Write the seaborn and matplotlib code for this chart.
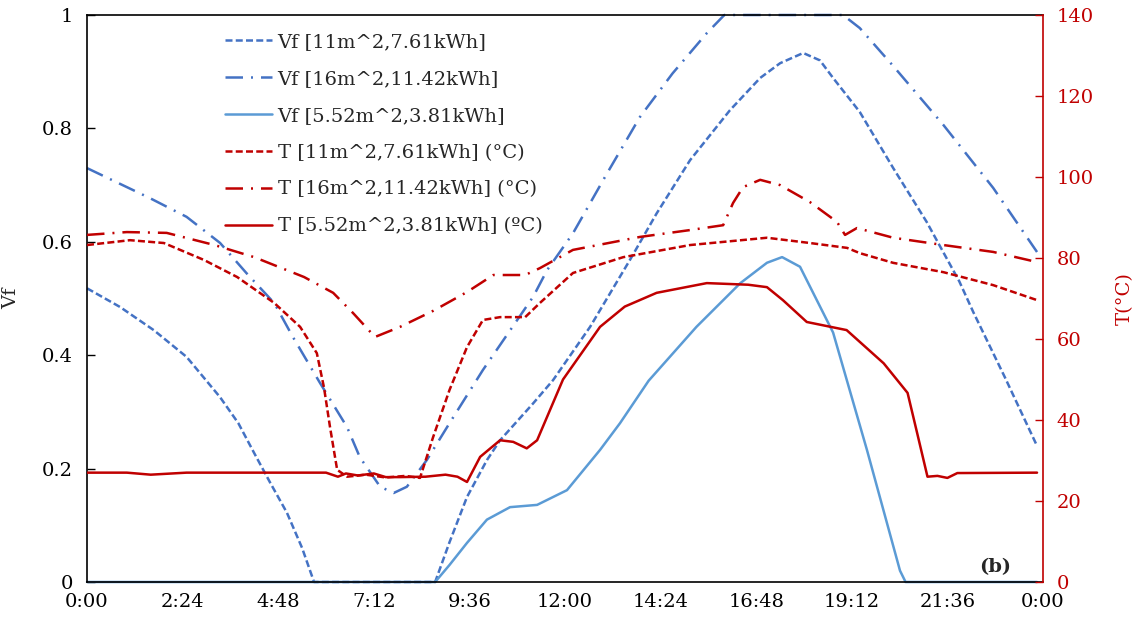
import matplotlib
matplotlib.use("Agg")
import matplotlib.pyplot as plt
import seaborn as sns

# ---------------- data (time in hours) ----------------
vf11_h = [0, 0.83, 1.68, 2.5, 3.34, 3.8, 4.2, 4.6, 5.02, 5.4, 5.7, 8.74, 9.1, 9.54, 10.04, 10.37,
          11.2, 11.7, 12.63, 13.63, 14.3, 15.14, 16.14, 16.9, 17.4, 17.98, 18.4, 18.73, 19.4,
          20.24, 21.08, 21.9, 22.25, 23.05, 23.85]
vf11_v = [0.518, 0.485, 0.444, 0.397, 0.326, 0.28, 0.227, 0.175, 0.122, 0.06, 0.0, 0.0, 0.07,
          0.15, 0.215, 0.25, 0.315, 0.356, 0.45, 0.568, 0.65, 0.744, 0.832, 0.889, 0.915, 0.933,
          0.92, 0.889, 0.829, 0.73, 0.635, 0.53, 0.476, 0.36, 0.24]

vf16_h = [0, 1.58, 2.5, 3.34, 4.0, 4.7, 5.17, 5.85, 6.53, 6.85, 7.36, 7.7, 8.03, 8.53, 9.1, 9.94,
          11.2, 11.55, 12.2, 13.05, 13.88, 14.7, 15.56, 16.0, 18.98, 19.4, 20.24, 21.5, 22.75, 23.85]
vf16_v = [0.73, 0.677, 0.644, 0.598, 0.545, 0.492, 0.432, 0.351, 0.273, 0.22, 0.168, 0.157, 0.168,
          0.215, 0.28, 0.374, 0.503, 0.55, 0.615, 0.72, 0.82, 0.897, 0.968, 1.0, 1.0, 0.977, 0.91,
          0.806, 0.695, 0.582]

vf5_h = [0, 8.74, 9.1, 9.54, 10.04, 10.62, 11.3, 12.05, 12.88, 13.38, 14.1, 15.3, 16.4, 17.07,
         17.45, 17.9, 18.73, 19.58, 20.41, 20.55, 23.85]
vf5_v = [0, 0, 0.03, 0.069, 0.11, 0.132, 0.136, 0.162, 0.233, 0.28, 0.355, 0.45, 0.527, 0.563,
         0.573, 0.556, 0.44, 0.233, 0.02, 0.0, 0.0]

t11_h = [0, 1.08, 1.93, 2.94, 3.77, 4.7, 5.35, 5.77, 5.95, 6.1, 6.28, 6.53, 7.0, 7.5, 8.0, 8.36,
         8.69, 9.1, 9.54, 9.94, 10.37, 11.0, 11.37, 12.2, 13.46, 15.14, 17.07, 18.15, 19.08, 19.4,
         20.24, 21.5, 22.75, 23.85]
t11_v = [83.2, 84.4, 83.7, 79.5, 75.3, 68.9, 63, 56.5, 48, 38.3, 27.7, 26, 26.5, 25.8, 26.2, 25.7,
         35.8, 47.4, 58, 64.7, 65.4, 65.4, 68.9, 76.3, 80.2, 83.2, 85, 83.7, 82.5, 81.2, 78.8, 76.5,
         73.3, 69.6]

t16_h = [0, 1.0, 2.0, 3.2, 4.2, 5.45, 6.18, 6.68, 7.23, 7.86, 8.7, 9.54, 10.2, 11.0, 11.37, 12.2,
         13.88, 15.14, 15.97, 16.22, 16.47, 16.9, 17.4, 18.15, 18.83, 19.03, 19.33, 20.24, 21.5,
         22.75, 23.85]
t16_v = [85.7, 86.4, 86.2, 83.2, 80.2, 75.3, 71.4, 66.4, 60.5, 63, 67, 71.6, 75.8, 75.8, 77.5, 82,
         85.2, 86.9, 88.1, 93.6, 97.5, 99.3, 98, 93.8, 88.9, 85.7, 87.4, 85, 83.2, 81.5, 79]

t5_h = [0, 1.0, 1.6, 2.5, 5.0, 6.0, 6.3, 6.5, 6.8, 7.2, 7.5, 7.86, 8.5, 9.0, 9.3, 9.54, 9.87,
        10.37, 10.7, 11.04, 11.3, 11.95, 12.88, 13.5, 14.3, 15.56, 16.6, 17.07, 17.47, 18.07, 19.07,
        20.0, 20.6, 20.84, 21.1, 21.35, 21.6, 21.85, 23.85]
t5_v = [27, 27, 26.5, 27, 27, 27, 26, 26.8, 26.3, 26.8, 25.9, 25.9, 26, 26.5, 26, 24.7, 30.9, 35,
        34.6, 33, 35, 50, 63, 68, 71.4, 73.8, 73.4, 72.8, 69.6, 64.2, 62.2, 54, 46.7, 36.8, 26,
        26.2, 25.7, 26.9, 27]

labels = ["Vf [11m^2,7.61kWh]", "Vf [16m^2,11.42kWh]", "Vf [5.52m^2,3.81kWh]",
          "T [11m^2,7.61kWh] (\u00b0C)", "T [16m^2,11.42kWh] (\u00b0C)", "T [5.52m^2,3.81kWh] (\u00baC)"]
x_ticks = [0, 2.4, 4.8, 7.2, 9.6, 12.0, 14.4, 16.8, 19.2, 21.6, 24.0]
x_ticklabels = ["0:00", "2:24", "4:48", "7:12", "9:36", "12:00", "14:24", "16:48", "19:12",
                "21:36", "0:00"]

# ---------------- style ----------------
sns.set_style("white")
plt.rcParams["font.family"] = ["DejaVu Serif"]
plt.rcParams["font.size"] = 14

BLUE = "#4472C4"
LBLUE = "#5B9BD5"
RED = "#C00000"
DASH = (0, (2.8, 1.3))
DASHDOT = (0, (7, 3.2, 0.8, 3.2))
LW = 1.8

fig = plt.figure(figsize=(11.44, 6.27), dpi=100)
ax = fig.add_axes([87 / 1144, 1 - 582 / 627, (1043 - 87) / 1144, (582 - 15) / 627])
ax2 = ax.twinx()

sns.lineplot(x=vf11_h, y=vf11_v, ax=ax, color=BLUE, linestyle=DASH, lw=LW, label=labels[0],
             legend=False, clip_on=False)
sns.lineplot(x=vf16_h, y=vf16_v, ax=ax, color=BLUE, linestyle=DASHDOT, lw=LW, label=labels[1],
             legend=False, clip_on=False)
sns.lineplot(x=vf5_h, y=vf5_v, ax=ax, color=LBLUE, linestyle="-", lw=LW, label=labels[2],
             legend=False, clip_on=False)
sns.lineplot(x=t11_h, y=t11_v, ax=ax2, color=RED, linestyle=DASH, lw=LW, label=labels[3],
             legend=False)
sns.lineplot(x=t16_h, y=t16_v, ax=ax2, color=RED, linestyle=DASHDOT, lw=LW, label=labels[4],
             legend=False)
sns.lineplot(x=t5_h, y=t5_v, ax=ax2, color=RED, linestyle="-", lw=LW, label=labels[5],
             legend=False)

ax.set_xlim(0, 24)
ax.set_ylim(0, 1)
ax2.set_ylim(0, 140)
ax.set_xticks(x_ticks)
ax.set_xticklabels(x_ticklabels)
ax.set_yticks([0, 0.2, 0.4, 0.6, 0.8, 1.0])
ax.set_yticklabels(["0", "0.2", "0.4", "0.6", "0.8", "1"])
ax2.set_yticks([0, 20, 40, 60, 80, 100, 120, 140])

ax.tick_params(axis="x", direction="in", length=6, width=1, colors="black", pad=8, labelsize=14)
ax.tick_params(axis="y", direction="in", length=6, width=1, colors="black", pad=10, labelsize=14)
ax2.tick_params(axis="y", direction="in", length=6, width=1, colors=RED, pad=10, labelsize=14)

for s in ["left", "bottom", "top"]:
    ax.spines[s].set_color("black")
    ax.spines[s].set_linewidth(1.2)
for s in ["left", "bottom", "top"]:
    ax2.spines[s].set_visible(False)
ax.spines["right"].set_visible(False)
ax2.spines["right"].set_color(RED)
ax2.spines["right"].set_linewidth(1.2)

ax.set_xlabel("")
ax.set_ylabel("Vf", fontsize=14)
ax.yaxis.set_label_coords((20 - 87) / 956, 0.5)
ax2.set_ylabel("T(\u00b0C)", fontsize=14, color=RED)
ax2.yaxis.set_label_coords((1116 - 87) / 956, 0.5)

ax2.text(0.95, 0.026, "(b)", transform=ax.transAxes, fontsize=14, fontweight="bold",
         ha="center", va="center")

h1, l1 = ax.get_legend_handles_labels()
h2, l2 = ax2.get_legend_handles_labels()
fig.legend(h1 + h2, l1 + l2, loc="upper left", bbox_to_anchor=(225 / 1144, 1 - 33 / 627),
           frameon=False, fontsize=14, handlelength=2.4, handletextpad=0.3, labelspacing=0.97,
           borderpad=0, borderaxespad=0)

fig.savefig("out.png", dpi=100)
